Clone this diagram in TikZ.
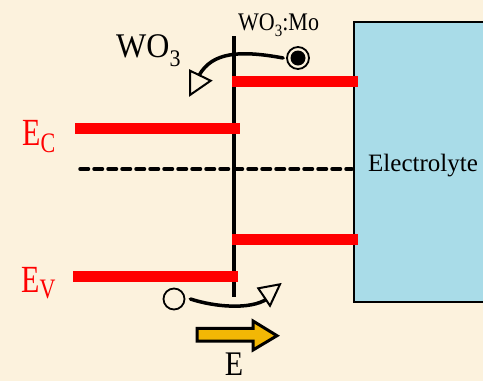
\documentclass[tikz,border=0pt]{standalone}
\usepackage{fontspec}
\usepackage{graphicx}
\setmainfont{Liberation Serif}
\usetikzlibrary{arrows.meta}
\definecolor{bg}{HTML}{FCF2DD}
\definecolor{water}{HTML}{A9DCE8}
\definecolor{gold}{HTML}{F2B705}
\begin{document}
\begin{tikzpicture}[x=1pt,y=-1pt,
  lbl/.style={anchor=base west, inner sep=0pt},
  bar/.style={line width=11pt, red, line cap=butt},
  axis/.style={line width=3.5pt, black},
  level/.style={line width=3.5pt, black, line cap=round, dash pattern=on 8.5pt off 5.5pt},
  curve/.style={line width=3.5pt, black, line cap=round},
  head/.style={line width=2pt, black, line join=miter, fill=bg},
  carrier/.style={circle, draw, line width=1.8pt, inner sep=0pt, minimum size=21pt, fill=bg}]
\fill[bg] (0,0) rectangle (483,381);
\useasboundingbox (0,0) rectangle (483,381);
% electrolyte
\fill[water] (354,22) rectangle (483,302);
\draw[line width=1.8pt] (483,22) -- (354,22) -- (354,302) -- (483,302);
\node[lbl, font=\fontsize{25}{25}\selectfont] (elec) at (368,171) {Electrolyte};
% coordinates
\coordinate (vtop) at (234,36);
\coordinate (vbot) at (234,297);
\coordinate (r1a) at (232,81); \coordinate (r1b) at (358,81);
\coordinate (eca) at (75,128.5); \coordinate (ecb) at (240,128.5);
\coordinate (r2a) at (232,239); \coordinate (r2b) at (358,239);
\coordinate (eva) at (73,276); \coordinate (evb) at (238,276);
\coordinate (fa) at (80,169); \coordinate (fb) at (352,169);
% dashed level
\draw[level] (fa) -- (fb);
% interface line
\draw[axis] (vtop) -- (vbot);
% bars
\draw[bar] (r1a) -- (r1b);
\draw[bar] (eca) -- (ecb);
\draw[bar] (r2a) -- (r2b);
\draw[bar] (eva) -- (evb);
% labels
\node[lbl, red] (ec) at (22,145) {\scalebox{1}[1.28]{\fontsize{30}{30}\selectfont E\raisebox{-5.5pt}{\fontsize{22}{22}\selectfont C}}};
\node[lbl, red] (ev) at (21,292) {\scalebox{1}[1.28]{\fontsize{30}{30}\selectfont E\raisebox{-4.7pt}{\fontsize{22}{22}\selectfont V}}};
\node[lbl] (wo) at (116,57) {\scalebox{1}[1.08]{\fontsize{32}{32}\selectfont WO\raisebox{-9pt}{\fontsize{22}{22}\selectfont 3}}};
\node[lbl] (wom) at (238,30) {\scalebox{1}[1.15]{\fontsize{22}{22}\selectfont WO\raisebox{-6pt}{\fontsize{15}{15}\selectfont 3}:Mo}};
% electron
\node[carrier, minimum size=22pt] (e) at (298,58) {};
\fill (e.center) circle (7.5);
% hole
\node[carrier] (h) at (174,299) {};
% electron path
\coordinate (t1) at (199,75.5);
\draw[curve] ([xshift=-3pt]e.west) .. controls (240,50) and (212,52) .. (t1);
\draw[head] (190,70.7) -- (210.7,80.7) -- (190,95) -- cycle;
% hole path
\coordinate (t2) at (267,299);
\draw[curve] ([xshift=5pt]h.east) .. controls (215,307) and (250,310) .. (t2);
\draw[head] (258.3,288.3) -- (280,284.3) -- (270,305.7) -- cycle;
% field arrow
\draw[line width=3pt, fill=gold, line join=miter]
  (197,328.3) -- (253,328.3) -- (253,321) -- (277,335.7) -- (253,350) -- (253,341) -- (197,341) -- cycle;
\node[anchor=base, inner sep=0pt] (E) at (234,375) {\scalebox{1}[1.15]{\fontsize{30}{30}\selectfont E}};
\end{tikzpicture}
\end{document}
